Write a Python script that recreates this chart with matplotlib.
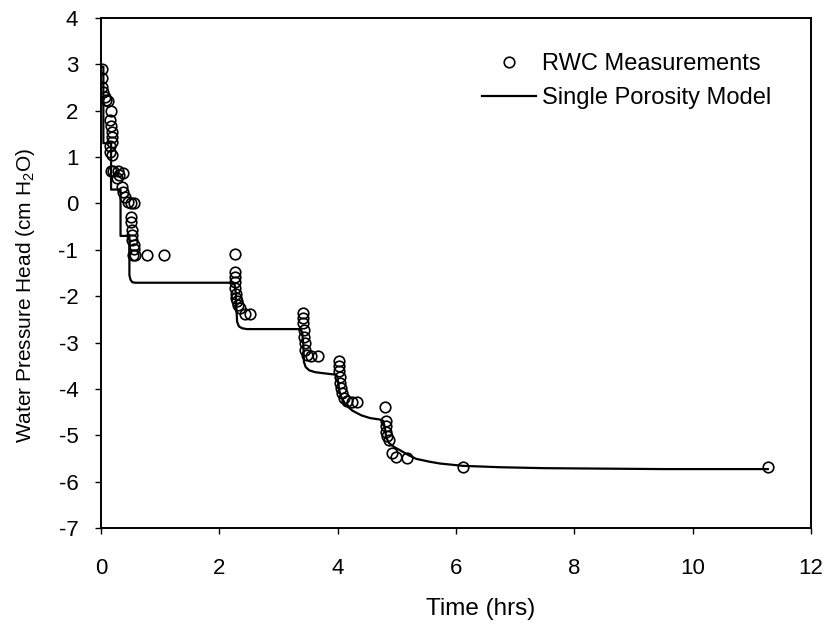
import matplotlib
matplotlib.use("Agg")
import matplotlib.pyplot as plt

plt.rcParams['font.family'] = ['Liberation Sans', 'DejaVu Sans']
plt.rcParams['mathtext.fontset'] = 'custom'
plt.rcParams['mathtext.rm'] = 'Liberation Sans'
plt.rcParams['mathtext.it'] = 'Liberation Sans:italic'
plt.rcParams['mathtext.bf'] = 'Liberation Sans:bold'
plt.rcParams['axes.unicode_minus'] = False

# RWC measurements (time in hrs, pressure head in cm H2O)
meas_t = [0.01, 0.02, 0.02, 0.04, 0.06, 0.08, 0.12, 0.17, 0.15, 0.17, 0.18, 0.18,
          0.18, 0.15, 0.15, 0.18, 0.17, 0.21, 0.29, 0.30, 0.37, 0.27, 0.35, 0.38,
          0.41, 0.46, 0.50, 0.55, 0.51, 0.51, 0.52, 0.52, 0.53, 0.55, 0.56, 0.54,
          0.58, 0.77, 1.07,
          2.26, 2.26, 2.26, 2.26, 2.27, 2.28, 2.29, 2.30, 2.32, 2.35, 2.43, 2.51,
          3.42, 3.42, 3.42, 3.43, 3.43, 3.44, 3.45, 3.48, 3.55, 3.67,
          4.03, 4.03, 4.03, 4.04, 4.04, 4.05, 4.07, 4.10, 4.16, 4.24, 4.33,
          4.80, 4.81, 4.81, 4.82, 4.83, 4.86, 4.91, 4.99, 5.18, 6.11, 11.27]
meas_h = [2.90, 2.70, 2.51, 2.40, 2.29, 2.23, 2.20, 2.00, 1.80, 1.66, 1.55, 1.44,
          1.33, 1.23, 1.12, 1.05, 0.71, 0.70, 0.69, 0.62, 0.65, 0.55, 0.36, 0.25,
          0.14, 0.04, 0.00, 0.00, -0.29, -0.39, -0.57, -0.68, -0.78, -0.89, -0.98, -1.11,
          -1.11, -1.11, -1.11,
          -1.10, -1.48, -1.58, -1.70, -1.82, -1.95, -2.03, -2.11, -2.19, -2.26, -2.39, -2.39,
          -2.36, -2.47, -2.58, -2.72, -2.87, -3.01, -3.16, -3.26, -3.30, -3.29,
          -3.40, -3.50, -3.62, -3.74, -3.87, -3.98, -4.09, -4.20, -4.27, -4.29, -4.29,
          -4.39, -4.70, -4.81, -4.92, -5.02, -5.10, -5.38, -5.46, -5.49, -5.68, -5.69]

# single porosity model
model_t = [0.0, 0.04, 0.04, 0.17, 0.17, 0.33, 0.33, 0.48, 0.48, 0.50, 0.53, 0.58,
           2.22, 2.26, 2.28, 2.29, 2.30, 2.33, 2.38, 2.46,
           3.37, 3.40, 3.42, 3.43, 3.46, 3.52, 3.62, 3.81, 3.95,
           3.99, 4.01, 4.03, 4.07, 4.14, 4.25, 4.40, 4.55, 4.71, 4.77,
           4.80, 4.82, 4.87, 4.95, 5.05, 5.20, 5.33, 5.55, 5.73, 6.12, 6.75,
           7.5, 8.5, 9.5, 11.27]
model_h = [2.95, 2.95, 1.30, 1.30, 0.30, 0.30, -0.70, -0.70, -1.55, -1.65, -1.70, -1.71,
           -1.71, -1.76, -1.95, -2.30, -2.55, -2.65, -2.69, -2.71,
           -2.71, -2.78, -3.05, -3.42, -3.53, -3.60, -3.64, -3.67, -3.69,
           -3.72, -3.88, -4.05, -4.20, -4.35, -4.47, -4.57, -4.63, -4.66, -4.69,
           -4.85, -5.05, -5.17, -5.25, -5.32, -5.43, -5.51, -5.57, -5.61, -5.66, -5.69,
           -5.71, -5.72, -5.73, -5.73]

fig = plt.figure(figsize=(8.3, 6.32), dpi=100)
ax = fig.add_axes([0.1217, 0.1646, 0.8554, 0.8069])

ax.plot(meas_t, meas_h, linestyle='none', marker='o', markersize=7.6,
        markerfacecolor='none', markeredgecolor='black', markeredgewidth=1.2,
        label='RWC Measurements', zorder=3)
ax.plot(model_t, model_h, color='black', linewidth=1.6,
        label='Single Porosity Model', zorder=2)

ax.set_xlim(0, 12)
ax.set_ylim(-7, 4)
ax.set_xticks(range(0, 13, 2))
ax.set_yticks(range(-7, 5))
for s in ax.spines.values():
    s.set_linewidth(1.4)
ax.tick_params(axis='x', direction='out', length=4.3, width=1, pad=17, labelsize=16)
ax.tick_params(axis='y', direction='out', length=4.3, width=1, pad=12, labelsize=16)

ax.set_xlabel('Time (hrs)', fontsize=17.5)
ax.xaxis.set_label_coords(0.535, -0.137)
ax.set_ylabel(r'Water Pressure Head (cm H$_{\mathrm{2}}$O)', fontsize=15)
ax.yaxis.set_label_coords(-0.09, 0.455)

ax.legend(loc='upper left', bbox_to_anchor=(482 / 830, 1 - 53 / 632),
          bbox_transform=fig.transFigure, frameon=False, fontsize=17,
          handlelength=2.3, handletextpad=0.25, borderpad=0, borderaxespad=0,
          labelspacing=0.5, markerscale=1.0)

fig.savefig('out.png', dpi=100)
